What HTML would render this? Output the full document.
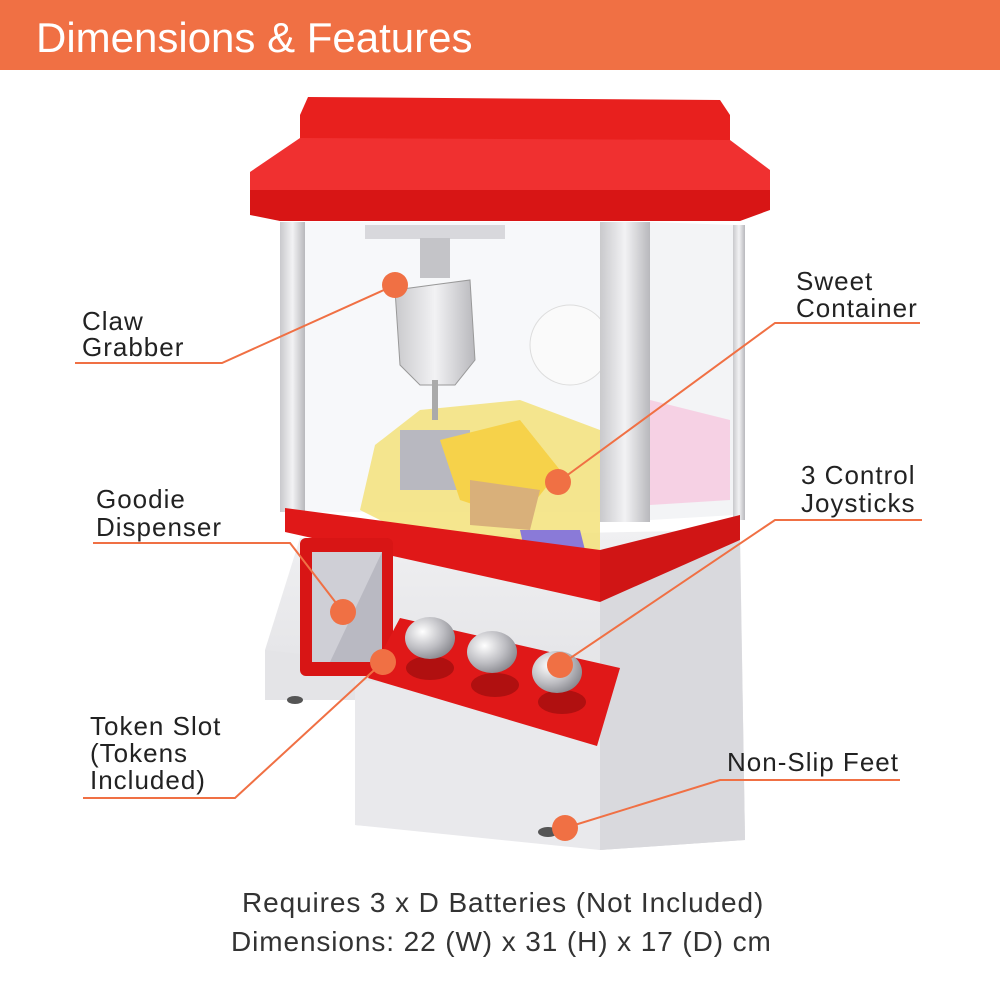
<!DOCTYPE html>
<html><head><meta charset="utf-8"><style>
html,body{margin:0;padding:0;background:#fff;}
svg{display:block}
text{font-family:"Liberation Sans",Arial,sans-serif;}
</style></head><body>
<svg width="1000" height="1000" viewBox="0 0 1000 1000" xmlns="http://www.w3.org/2000/svg">
<defs>
<linearGradient id="sil" x1="0" x2="1"><stop offset="0" stop-color="#c9c9cc"/><stop offset="0.5" stop-color="#f2f2f4"/><stop offset="1" stop-color="#b8b8bc"/></linearGradient>
<linearGradient id="body" x1="0" y1="0" x2="0" y2="1"><stop offset="0" stop-color="#f0f0f2"/><stop offset="1" stop-color="#d6d6da"/></linearGradient>
<radialGradient id="knob" cx="0.35" cy="0.35" r="0.7"><stop offset="0" stop-color="#fff"/><stop offset="0.6" stop-color="#bdbdc2"/><stop offset="1" stop-color="#8a8a90"/></radialGradient>
</defs>
<rect x="0" y="0" width="1000" height="70" fill="#F07044"/>
<text x="36" y="52" font-size="42" fill="#fff">Dimensions &amp; Features</text>

<polygon points="265,650 300,538 740,530 745,840 600,850 560,840 355,825 355,700 265,700" fill="url(#body)"/>
<polygon points="265,650 355,660 355,700 265,700" fill="#e4e4e7"/>
<polygon points="355,680 620,700 600,850 355,825" fill="#e9e9ec"/>
<polygon points="600,600 740,540 745,840 600,850" fill="#d9d9dd"/>
<ellipse cx="295" cy="700" rx="8" ry="4" fill="#555"/>
<ellipse cx="548" cy="832" rx="10" ry="5" fill="#555"/>

<rect x="305" y="222" width="295" height="290" fill="#f7f8fa"/>
<polygon points="650,222 735,225 735,515 650,520" fill="#f3f4f6"/>
<circle cx="570" cy="345" r="40" fill="#fafafa" stroke="#ddd"/>
<polygon points="375,445 420,410 520,400 600,430 600,575 460,560 360,510" fill="#f3e27a" opacity="0.85"/>
<rect x="400" y="430" width="70" height="60" fill="#b8b8c0"/>
<polygon points="440,440 520,420 560,470 520,520 460,500" fill="#f6d24a"/>
<polygon points="520,530 580,530 590,570 530,575" fill="#8a7ad8"/>
<polygon points="470,480 540,490 530,530 470,525" fill="#d9b07a"/>
<polygon points="650,400 730,420 730,500 650,505" fill="#f6c8e0" opacity="0.8"/>
<rect x="365" y="225" width="140" height="14" fill="#d8d8dc"/>
<rect x="420" y="238" width="30" height="40" fill="#c4c4c8"/>
<polygon points="395,290 470,280 475,360 455,385 420,385 400,365" fill="url(#sil)" stroke="#999"/>
<rect x="432" y="380" width="6" height="40" fill="#aaa"/>
<rect x="280" y="222" width="25" height="290" fill="url(#sil)"/>
<rect x="600" y="222" width="50" height="300" fill="url(#sil)"/>
<rect x="733" y="225" width="12" height="295" fill="url(#sil)"/>

<polygon points="285,508 600,550 600,602 285,532" fill="#e01818"/>
<polygon points="600,550 740,515 740,540 600,602" fill="#d01515"/>

<polygon points="300,115 308,97 720,100 730,115 730,140 300,140" fill="#e8201e"/>
<polygon points="300,138 730,140 770,170 770,210 250,215 250,172" fill="#f03030"/>
<polygon points="250,190 770,190 770,210 740,221 280,221 250,215" fill="#d81515"/>

<rect x="300" y="538" width="93" height="138" rx="6" fill="#d81515"/>
<rect x="312" y="552" width="70" height="110" fill="#b9b9c2"/>
<polygon points="312,552 382,552 330,662 312,662" fill="#cfcfd6"/>

<polygon points="400,618 620,668 597,746 368,678" fill="#e01818"/>
<ellipse cx="430" cy="668" rx="24" ry="12" fill="#b01010"/>
<ellipse cx="495" cy="685" rx="24" ry="12" fill="#b01010"/>
<ellipse cx="562" cy="702" rx="24" ry="12" fill="#b01010"/>
<ellipse cx="430" cy="638" rx="25" ry="21" fill="url(#knob)"/>
<ellipse cx="492" cy="652" rx="25" ry="21" fill="url(#knob)"/>
<ellipse cx="557" cy="672" rx="25" ry="21" fill="url(#knob)"/>

<g stroke="#F07044" stroke-width="2" fill="none">
<polyline points="75,363 222,363 395,285"/>
<polyline points="920,323 775,323 558,482"/>
<polyline points="93,543 290,543 343,612"/>
<polyline points="922,520 775,520 560,665"/>
<polyline points="83,798 235,798 383,662"/>
<polyline points="900,780 720,780 565,828"/>
</g>
<g fill="#F07044">
<circle cx="395" cy="285" r="13"/>
<circle cx="558" cy="482" r="13"/>
<circle cx="343" cy="612" r="13"/>
<circle cx="560" cy="665" r="13"/>
<circle cx="383" cy="662" r="13"/>
<circle cx="565" cy="828" r="13"/>
</g>
<g font-size="26" fill="#222" letter-spacing="1">
<text x="82" y="330">Claw</text><text x="82" y="356">Grabber</text>
<text x="796" y="290">Sweet</text><text x="796" y="317">Container</text>
<text x="96" y="508">Goodie</text><text x="96" y="536">Dispenser</text>
<text x="801" y="484">3 Control</text><text x="801" y="512">Joysticks</text>
<text x="90" y="735">Token Slot</text><text x="90" y="762">(Tokens</text><text x="90" y="789">Included)</text>
<text x="727" y="771">Non-Slip Feet</text>
</g>
<g font-size="28" fill="#333" letter-spacing="0.9">
<text x="242" y="912">Requires 3 x D Batteries (Not Included)</text>
<text x="231" y="951">Dimensions: 22 (W) x 31 (H) x 17 (D) cm</text>
</g>
</svg>
</body></html>
